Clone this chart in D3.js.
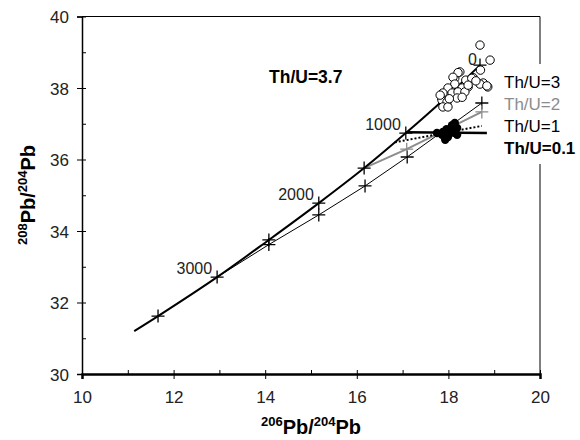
<!DOCTYPE html>
<meta charset="utf-8">
<style>
body { margin: 0; font-family: Arial, "Liberation Sans", sans-serif; background: #fff; }
.tick text { font-size: 17px; fill: #222; font-family: Arial, "Liberation Sans", sans-serif; }
.tick line { stroke: #000; }
</style>
<body>
<svg id="chart" width="580" height="440"></svg>
<script src="https://d3js.org/d3.v7.min.js"></script>
<script>

// tick values
var xTicks = [10, 12, 14, 16, 18, 20];
var xMinor = [11, 13, 15, 17, 19];
var yTicks = [30, 32, 34, 36, 38, 40];
var yMinor = [31, 33, 35, 37, 39];

// Th/U=3.7 growth curve (206/204, 208/204), ages in Ma
var curve37 = [[11.14, 31.20], [11.66, 31.62], [12.95, 32.71], [14.08, 33.75], [15.17, 34.78],
               [16.16, 35.76], [17.07, 36.74], [17.90, 37.68], [18.69, 38.64]];
var ages37 = [null, 3500, 3000, 2500, 2000, 1500, 1000, 500, 0];
var ageLabels = [0, 1000, 2000, 3000];

// secondary curves
var curve3 = [[12.95, 32.71], [14.08, 33.62], [15.17, 34.45], [16.18, 35.26], [17.10, 36.07], [18.73, 37.58]];
var curve2 = [[16.16, 35.76], [17.09, 36.29], [18.73, 37.33]];
var curve1 = [[16.83, 36.48], [18.73, 36.94]];
var curve01 = [[17.07, 36.76], [18.84, 36.74]];

// samples
var openX = [18.69, 18.91, 18.70, 18.54, 18.43, 18.76, 18.86, 18.25, 18.14, 18.21, 18.10, 18.38, 18.51,
             18.69, 18.84, 18.14, 18.30, 17.99, 17.88, 18.08, 18.21, 18.36, 17.86, 17.97, 18.19, 18.30,
             17.88, 17.99, 18.43, 17.82, 18.02, 18.60];
var openY = [39.20, 38.78, 38.50, 38.29, 38.03, 38.14, 38.03, 38.45, 38.28, 38.43, 38.30, 38.22, 38.27,
             38.11, 38.06, 38.11, 38.00, 38.00, 37.86, 37.86, 37.89, 37.89, 37.66, 37.61, 37.72, 37.74,
             37.47, 37.47, 38.08, 37.80, 37.70, 38.20];
var fillX = [17.75, 17.86, 17.93, 17.99, 18.08, 18.14, 18.19, 18.03, 18.19, 17.88, 18.12, 17.96];
var fillY = [36.74, 36.69, 36.55, 36.63, 36.96, 37.02, 36.69, 36.80, 36.88, 36.77, 36.75, 36.85];

var legendText = ["Th/U=3", "Th/U=2", "Th/U=1", "Th/U=0.1"];

var svg = d3.select("#chart");

var x = d3.scaleLinear().domain([10, 20]).range([82, 540]);
var y = d3.scaleLinear().domain([30, 40]).range([374, 16.5]);

var line = d3.line()
    .x(function(d) { return x(d[0]); })
    .y(function(d) { return y(d[1]); });

// frame top/right
svg.append("line").attr("x1", x(10)).attr("x2", x(20)).attr("y1", y(40)).attr("y2", y(40))
    .attr("stroke", "#000").attr("stroke-width", 1);
svg.append("line").attr("x1", x(20)).attr("x2", x(20)).attr("y1", y(40)).attr("y2", y(30))
    .attr("stroke", "#000").attr("stroke-width", 1);

// minor ticks
svg.append("g").attr("transform", "translate(0," + y(30) + ")")
    .call(d3.axisBottom(x).tickValues(xMinor).tickSize(-4).tickFormat(""))
    .call(function(g) { g.select(".domain").remove(); });
svg.append("g").attr("transform", "translate(" + x(10) + ",0)")
    .call(d3.axisLeft(y).tickValues(yMinor).tickSize(-4).tickFormat(""))
    .call(function(g) { g.select(".domain").remove(); });

// main axes
var xAxis = svg.append("g").attr("transform", "translate(0," + y(30) + ")")
    .call(d3.axisBottom(x).tickValues(xTicks).tickSize(5).tickPadding(12));
xAxis.selectAll(".tick line").attr("y1", -4).attr("y2", 5);
xAxis.select(".domain").attr("stroke-width", 2.5);

var yAxis = svg.append("g").attr("transform", "translate(" + x(10) + ",0)")
    .call(d3.axisLeft(y).tickValues(yTicks).tickSize(5).tickPadding(8));
yAxis.selectAll(".tick line").attr("x1", 4).attr("x2", -5);
yAxis.select(".domain").attr("stroke-width", 1.5);
yAxis.selectAll(".tick text").attr("dy", "0.36em");

// curves
svg.append("path").datum(curve3).attr("d", line)
    .attr("fill", "none").attr("stroke", "#000").attr("stroke-width", 1);
svg.append("path").datum(curve2).attr("d", line)
    .attr("fill", "none").attr("stroke", "#8c8c8c").attr("stroke-width", 2);
svg.append("path").datum(curve1).attr("d", line)
    .attr("fill", "none").attr("stroke", "#000").attr("stroke-width", 2).attr("stroke-dasharray", "2,2");
svg.append("path").datum(curve01).attr("d", line)
    .attr("fill", "none").attr("stroke", "#000").attr("stroke-width", 2.5);
svg.append("path").datum(curve37).attr("d", line.curve(d3.curveCatmullRom))
    .attr("fill", "none").attr("stroke", "#000").attr("stroke-width", 2);

function crosses(pts, color) {
  svg.append("g").selectAll("path")
    .data(pts)
    .enter().append("path")
    .attr("d", function(d) {
      var cx = x(d[0]), cy = y(d[1]);
      return "M" + (cx - 6.5) + "," + cy + "H" + (cx + 6.5) + "M" + cx + "," + (cy - 6.5) + "V" + (cy + 6.5);
    })
    .attr("stroke", color).attr("stroke-width", 1.3);
}
crosses(curve37.filter(function(d, i) { return ages37[i] !== null; }), "#000");
crosses(curve3.slice(1), "#000");
crosses(curve2.slice(1), "#8c8c8c");

// samples
svg.append("g").selectAll("circle")
    .data(fillX)
    .enter().append("circle")
    .attr("cx", function(d) { return x(d); })
    .attr("cy", function(d, i) { return y(fillY[i]); })
    .attr("r", 4.2)
    .attr("fill", "#000");
svg.append("g").selectAll("circle")
    .data(openX)
    .enter().append("circle")
    .attr("cx", function(d) { return x(d); })
    .attr("cy", function(d, i) { return y(openY[i]); })
    .attr("r", 4.2)
    .attr("fill", "#fff").attr("stroke", "#000").attr("stroke-width", 1);

// age labels
svg.append("g").selectAll("text")
    .data(ageLabels)
    .enter().append("text")
    .attr("x", function(a) { return x(curve37[ages37.indexOf(a)][0]) - (a === 0 ? 3 : 5); })
    .attr("y", function(a) { return y(curve37[ages37.indexOf(a)][1]) - (a === 0 ? 0 : 3); })
    .attr("text-anchor", "end")
    .attr("font-size", 16)
    .attr("fill", "#222")
    .text(function(a) { return a; });

svg.append("text").attr("x", 269).attr("y", 83)
    .attr("font-size", 17.5).attr("font-weight", "bold").text("Th/U=3.7");

// legend with white box over frame
svg.append("rect").attr("x", 500).attr("y", 64).attr("width", 80).attr("height", 100).attr("fill", "#fff");
var legendColor = ["#000", "#8c8c8c", "#000", "#000"];
svg.append("g").selectAll("text")
    .data(legendText)
    .enter().append("text")
    .attr("x", 504)
    .attr("y", function(d, i) { return 88 + i * 22; })
    .attr("font-size", 17)
    .attr("font-weight", function(d, i) { return i === 3 ? "bold" : "normal"; })
    .attr("fill", function(d, i) { return legendColor[i]; })
    .text(function(d) { return d; });

// axis titles
var xt = svg.append("text").attr("x", 311).attr("y", 434).attr("text-anchor", "middle")
    .attr("font-weight", "bold").attr("font-size", 20);
xt.append("tspan").attr("font-size", 13).attr("dy", -8).text("206");
xt.append("tspan").attr("dy", 8).text("Pb/");
xt.append("tspan").attr("font-size", 13).attr("dy", -8).text("204");
xt.append("tspan").attr("dy", 8).text("Pb");

var yt = svg.append("text").attr("transform", "translate(35,195) rotate(-90)").attr("text-anchor", "middle")
    .attr("font-weight", "bold").attr("font-size", 20);
yt.append("tspan").attr("font-size", 13).attr("dy", -8).text("208");
yt.append("tspan").attr("dy", 8).text("Pb/");
yt.append("tspan").attr("font-size", 13).attr("dy", -8).text("204");
yt.append("tspan").attr("dy", 8).text("Pb");

</script>
</body>
